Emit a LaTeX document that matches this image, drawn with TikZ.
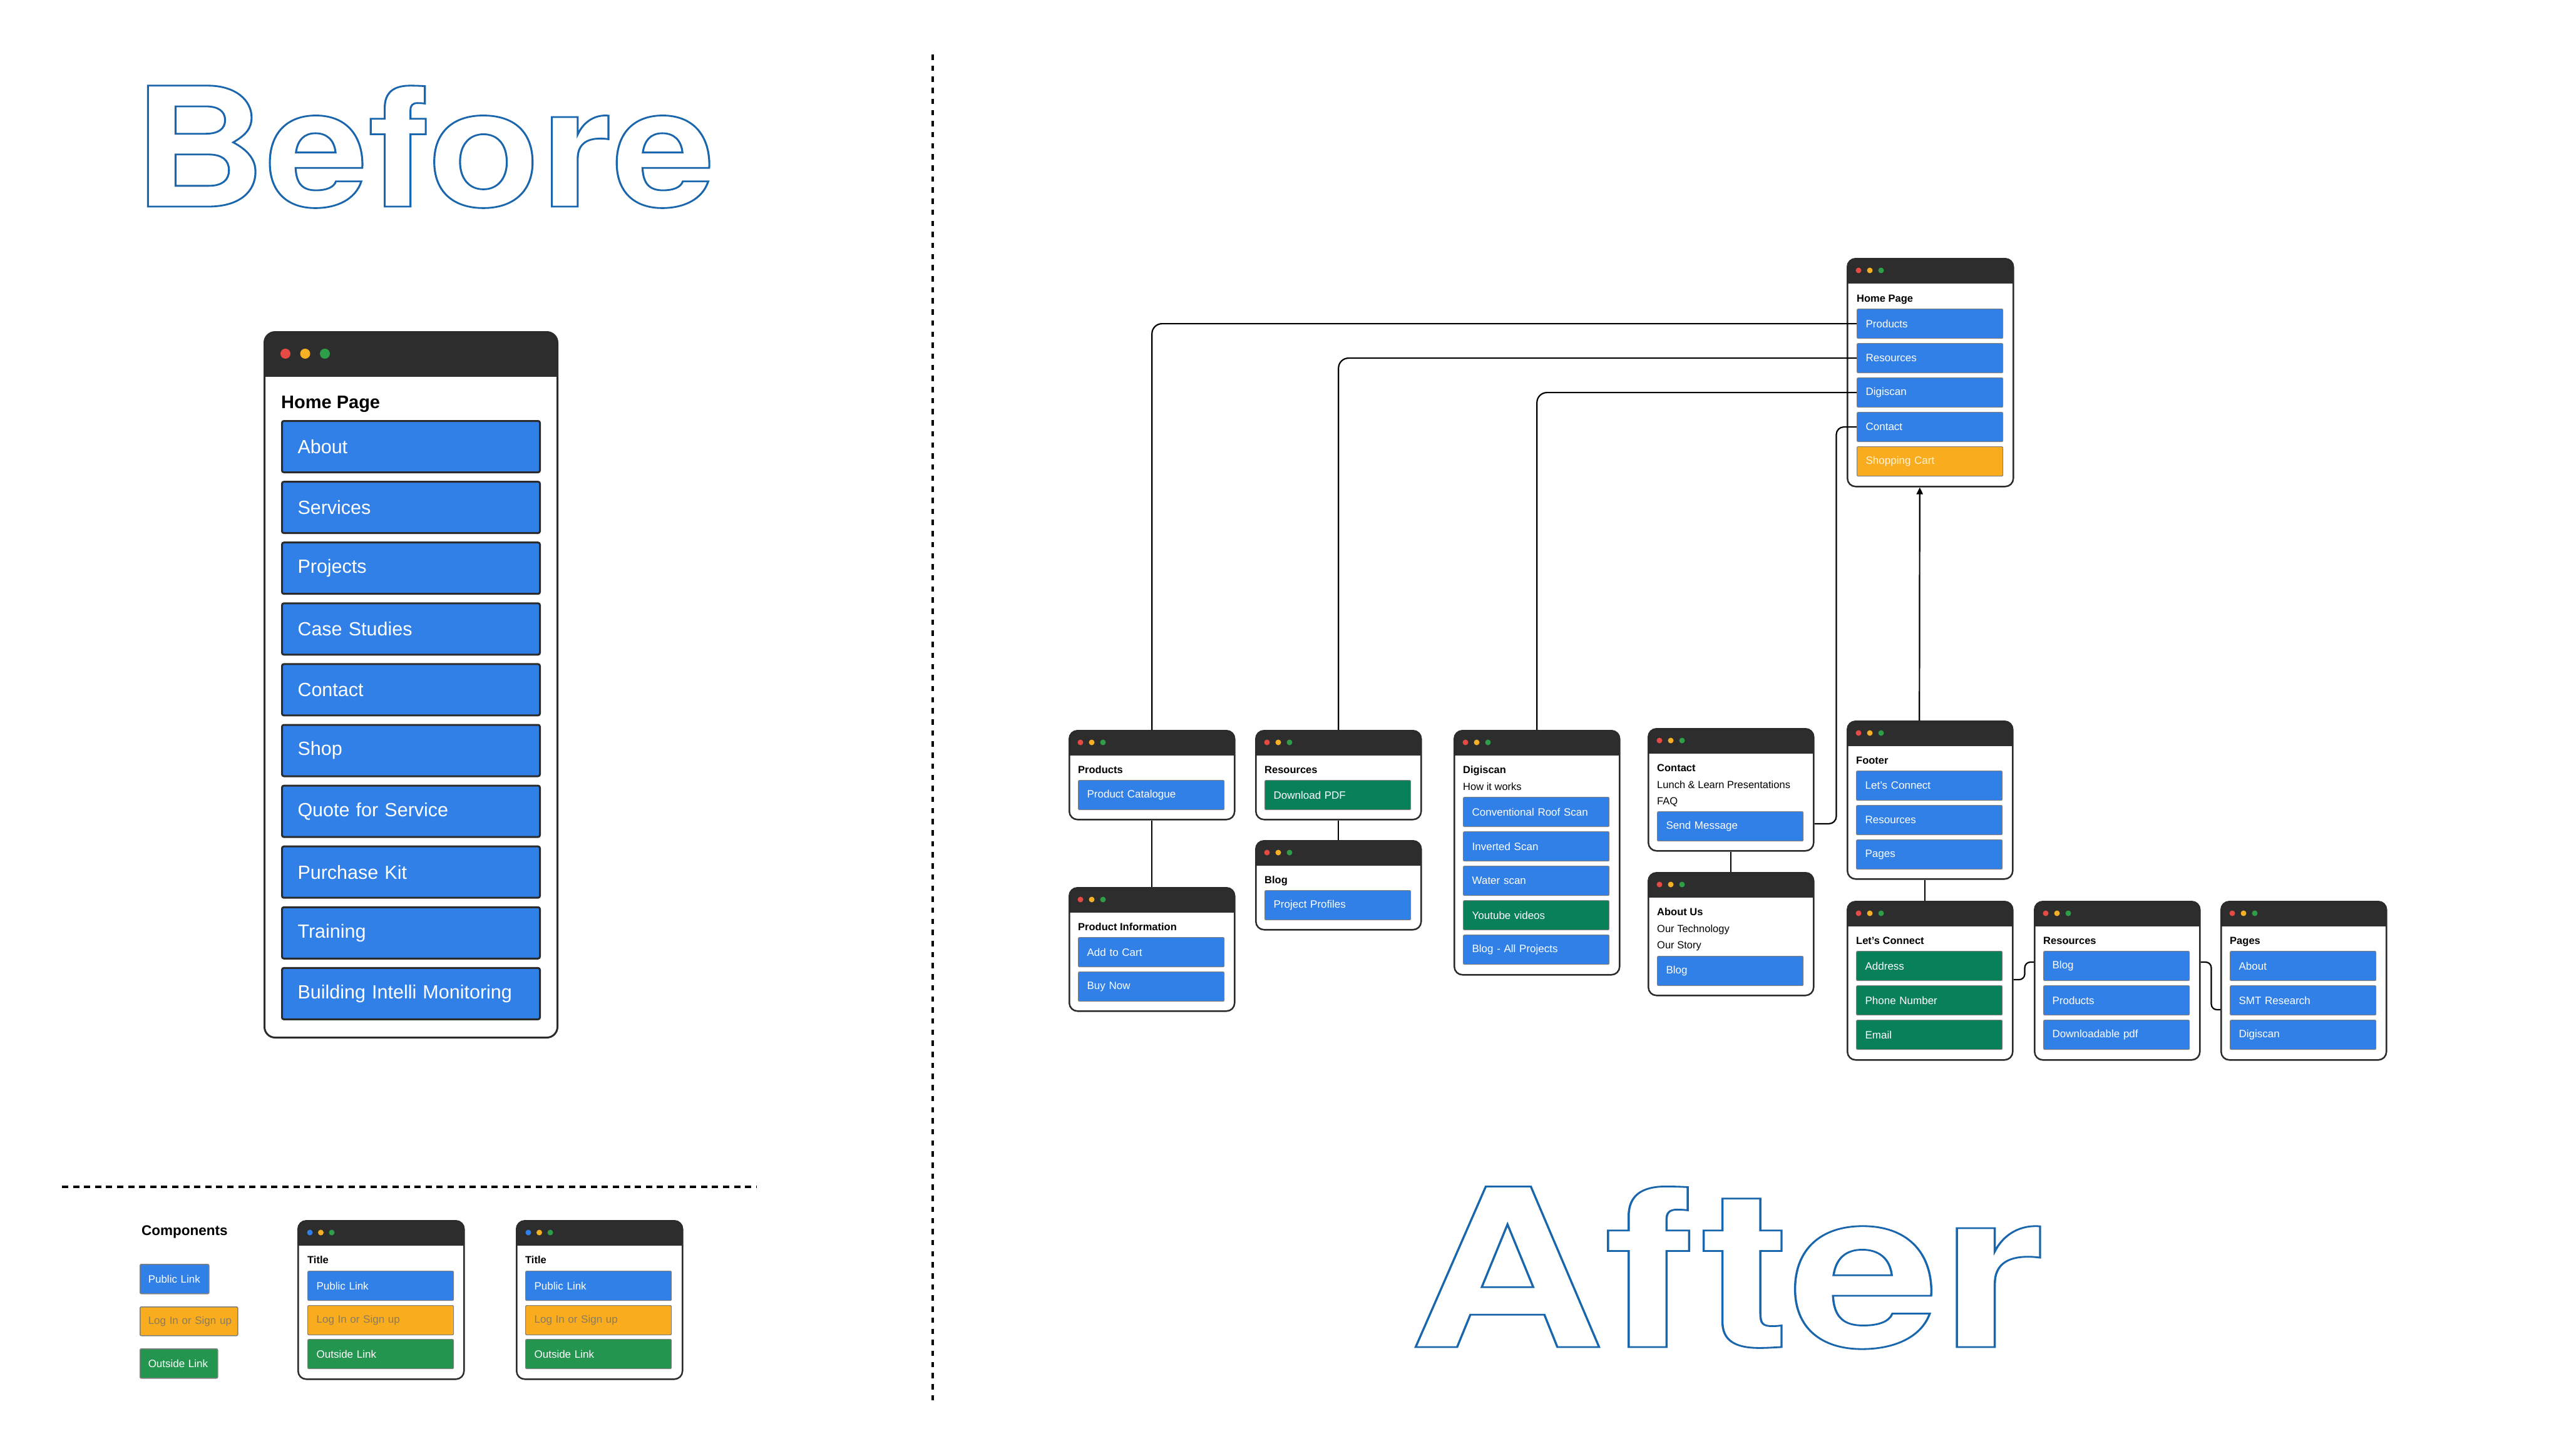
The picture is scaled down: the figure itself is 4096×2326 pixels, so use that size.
\documentclass[tikz,border=0pt]{standalone}
\usepackage{fontspec}
\setmainfont{Liberation Sans}
\newfontfamily\headfont{TeX Gyre Heros}
\usetikzlibrary{arrows.meta,calc}
\definecolor{hdr}{HTML}{2D2D2D}
\definecolor{bord}{HTML}{2B2B2B}
\definecolor{blu}{HTML}{3080E8}
\definecolor{org}{HTML}{F9AC1E}
\definecolor{grnA}{HTML}{08805A}
\definecolor{grnC}{HTML}{23954F}
\definecolor{dred}{HTML}{E64A45}
\definecolor{dorg}{HTML}{F5B025}
\definecolor{dgrn}{HTML}{2E9E48}
\definecolor{titleblue}{HTML}{1A66AD}
\definecolor{lgtxt}{HTML}{8A7C5E}
\definecolor{cream}{HTML}{FFF3DA}
\definecolor{itmbord}{HTML}{7F7F7F}
\newcommand\wdots[6]{%
  \fill[#6] ($(#1.north west)+(#2,#4)$) circle (#5pt);
  \fill[dorg] ($(#1.north west)+({#2+#3},#4)$) circle (#5pt);
  \fill[dgrn] ($(#1.north west)+({#2+2*#3},#4)$) circle (#5pt);}
\tikzset{
  win/.style={draw=bord, line width=2.5pt, fill=white, rounded corners=13pt,
    anchor=north west, inner sep=0pt, minimum width=264pt,
    path picture={\fill[hdr, sharp corners] (path picture bounding box.north west) rectangle ([yshift=-#1]path picture bounding box.north east);}},
  win/.default=40pt,
  itm/.style={anchor=north west, minimum height=47pt, inner xsep=14pt, inner ysep=0pt,
    text width=205pt, align=left, fill=blu, draw=itmbord, line width=1.2pt,
    rounded corners=2pt, text=white, font=\fontsize{17}{20}\selectfont},
  bitm/.style={anchor=north west, minimum height=82pt, inner xsep=25pt, inner ysep=0pt,
    text width=362pt, align=left, fill=blu, draw=bord, line width=3pt,
    rounded corners=3pt, text=white, font=\fontsize{30.5}{36}\selectfont},
  btn/.style={anchor=north west, inner xsep=13pt, inner ysep=0pt, align=left,
    draw=itmbord, line width=1.5pt, rounded corners=2pt, text=white,
    font=\fontsize{17}{20}\selectfont},
  wtitle/.style={anchor=base west, inner sep=0pt, font=\bfseries\fontsize{16.5}{20}\selectfont},
  wline/.style={anchor=base west, inner sep=0pt, font=\fontsize{16.5}{20}\selectfont},
  conn/.style={draw=black, line width=2.2pt, rounded corners=16pt},
}
\begin{document}
\begin{tikzpicture}[x=1pt,y=-1pt]
\useasboundingbox (0,0) rectangle (4096,2326);
\fill[white] (0,0) rectangle (4096,2326);

% big outlined titles
\node[anchor=base west, inner sep=0pt, text=titleblue] (tbefore) at (212,330)
  {\scalebox{1.11}[1]{\headfont\bfseries\fontsize{265}{300}\selectfont\special{pdf:literal direct 1 Tr 2.8 w}Before}};
\node[anchor=base west, inner sep=0pt, text=titleblue] (tafter) at (2250,2152)
  {\scalebox{1.23}[1]{\headfont\bfseries\fontsize{352}{400}\selectfont\special{pdf:literal direct 1 Tr 2.8 w}After}};

% separators
\draw[line width=4pt, dash pattern=on 8.5pt off 9.2pt] (1490,87) -- (1490,2239);
\draw[line width=4pt, dash pattern=on 10pt off 7.6pt] (99,1896) -- (1209,1896);

% ---------------- Before ----------------
\node[win=71pt, line width=3pt, rounded corners=17pt, minimum width=468pt, minimum height=1127pt] (bwin) at (421,529) {};
\wdots{bwin}{35}{31.5}{36}{8}{dred}
\node[anchor=base west, inner sep=0pt, font=\bfseries\fontsize{29}{34}\selectfont] (bhome) at (449,652) {Home Page};
\foreach \t [count=\i from 0] in {About,Services,Projects,Case Studies,Contact,Shop,Quote for Service,Purchase Kit,Training,Building Intelli Monitoring}
  \node[bitm] (bi\i) at (449,{671+97.1*\i}) {\t};

% ---------------- Components ----------------
\node[anchor=base west, inner sep=0pt, font=\bfseries\fontsize{22.5}{27}\selectfont] (comp) at (226,1973) {Components};
\node[btn, fill=blu, minimum height=47pt, text width=84pt] (cpub) at (223,2019) {\mbox{Public Link}};
\node[btn, fill=org, text=lgtxt, minimum height=46pt, text width=130pt] (clog) at (223,2087) {\mbox{Log In or Sign up}};
\node[btn, fill=grnC, minimum height=47pt, text width=98pt] (cout) at (223,2154) {\mbox{Outside Link}};

\node[win, minimum width=265pt, minimum height=253pt] (cw1) at (475,1949) {};
\wdots{cw1}{20}{17.5}{20}{4.5}{blu}
\node[wtitle] (cw1t) at (491,2018) {Title};
\node[itm] (cw1a) at (491,2030) {Public Link};
\node[itm, fill=org, text=lgtxt] (cw1b) at (491,2085) {Log In or Sign up};
\node[itm, fill=grnC] (cw1c) at (491,2139) {Outside Link};

\node[win, minimum width=265pt, minimum height=253pt] (cw2) at (824,1949) {};
\wdots{cw2}{20}{17.5}{20}{4.5}{blu}
\node[wtitle] (cw2t) at (839,2018) {Title};
\node[itm] (cw2a) at (839,2030) {Public Link};
\node[itm, fill=org, text=lgtxt] (cw2b) at (839,2085) {Log In or Sign up};
\node[itm, fill=grnC] (cw2c) at (839,2139) {Outside Link};

% ---------------- After ----------------
% Home page
\node[win, minimum width=265pt, minimum height=364pt] (home) at (2950,412) {};
\wdots{home}{19}{18}{20}{4.5}{dred}
\node[wtitle] (home-t) at (2966,482) {Home Page};
\node[itm] (hp-products) at (2966,493) {Products};
\node[itm] (hp-resources) at (2966,548) {Resources};
\node[itm] (hp-digiscan) at (2966,603) {Digiscan};
\node[itm] (hp-contact) at (2966,658) {Contact};
\node[itm, fill=org, text=cream] (hp-cart) at (2966,713) {Shopping Cart};

% Products
\node[win, minimum height=142pt] (products) at (1707,1166) {};
\wdots{products}{19}{18}{20}{4.5}{dred}
\node[wtitle] (products-t) at (1722,1235) {Products};
\node[itm] (products-1) at (1722,1246) {Product Catalogue};

% Product Information
\node[win, minimum height=197pt] (prodinfo) at (1707,1417) {};
\wdots{prodinfo}{19}{18}{20}{4.5}{dred}
\node[wtitle] (prodinfo-t) at (1722,1486) {Product Information};
\node[itm] (prodinfo-1) at (1722,1497) {Add to Cart};
\node[itm] (prodinfo-2) at (1722,1552) {Buy Now};

% Resources
\node[win, minimum height=142pt] (resources) at (2005,1166) {};
\wdots{resources}{19}{18}{20}{4.5}{dred}
\node[wtitle] (resources-t) at (2020,1235) {Resources};
\node[itm, fill=grnA] (resources-1) at (2020,1246) {Download PDF};

% Blog
\node[win, minimum height=142pt] (blog) at (2005,1342) {};
\wdots{blog}{19}{18}{20}{4.5}{dred}
\node[wtitle] (blog-t) at (2020,1411) {Blog};
\node[itm] (blog-1) at (2020,1422) {Project Profiles};

% Digiscan
\node[win, minimum height=390pt] (digiscan) at (2322,1166) {};
\wdots{digiscan}{19}{18}{20}{4.5}{dred}
\node[wtitle] (digiscan-t) at (2337,1235) {Digiscan};
\node[wline] (digiscan-l1) at (2337,1262) {How it works};
\node[itm] (digiscan-1) at (2337,1273) {Conventional Roof Scan};
\node[itm] (digiscan-2) at (2337,1328) {Inverted Scan};
\node[itm] (digiscan-3) at (2337,1383) {Water scan};
\node[itm, fill=grnA] (digiscan-4) at (2337,1438) {Youtube videos};
\node[itm] (digiscan-5) at (2337,1493) {Blog - All Projects};

% Contact
\node[win, minimum height=195pt] (contact) at (2632,1163) {};
\wdots{contact}{19}{18}{20}{4.5}{dred}
\node[wtitle] (contact-t) at (2647,1232) {Contact};
\node[wline] (contact-l1) at (2647,1259) {Lunch \& Learn Presentations};
\node[wline] (contact-l2) at (2647,1285) {FAQ};
\node[itm] (contact-1) at (2647,1296) {Send Message};

% About Us
\node[win, minimum height=196pt] (about) at (2632,1393) {};
\wdots{about}{19}{18}{20}{4.5}{dred}
\node[wtitle] (about-t) at (2647,1462) {About Us};
\node[wline] (about-l1) at (2647,1489) {Our Technology};
\node[wline] (about-l2) at (2647,1515) {Our Story};
\node[itm] (about-1) at (2647,1527) {Blog};

% Footer
\node[win, minimum height=252pt] (footer) at (2950,1151) {};
\wdots{footer}{19}{18}{20}{4.5}{dred}
\node[wtitle] (footer-t) at (2965,1220) {Footer};
\node[itm] (footer-1) at (2965,1231) {Let’s Connect};
\node[itm] (footer-2) at (2965,1286) {Resources};
\node[itm] (footer-3) at (2965,1341) {Pages};

% Let's Connect
\node[win, minimum height=253pt] (lc) at (2950,1439) {};
\wdots{lc}{19}{18}{20}{4.5}{dred}
\node[wtitle] (lc-t) at (2965,1508) {Let’s Connect};
\node[itm, fill=grnA] (lc-1) at (2965,1519) {Address};
\node[itm, fill=grnA] (lc-2) at (2965,1574) {Phone Number};
\node[itm, fill=grnA] (lc-3) at (2965,1629) {Email};

% Resources (footer)
\node[win, minimum height=253pt] (res2) at (3249,1439) {};
\wdots{res2}{19}{18}{20}{4.5}{dred}
\node[wtitle] (res2-t) at (3264,1508) {Resources};
\node[itm] (res2-1) at (3264,1519) {Blog};
\node[itm] (res2-2) at (3264,1574) {Products};
\node[itm] (res2-3) at (3264,1629) {Downloadable pdf};

% Pages
\node[win, minimum height=253pt] (pages) at (3547,1439) {};
\wdots{pages}{19}{18}{20}{4.5}{dred}
\node[wtitle] (pages-t) at (3562,1508) {Pages};
\node[itm] (pages-1) at (3562,1519) {About};
\node[itm] (pages-2) at (3562,1574) {SMT Research};
\node[itm] (pages-3) at (3562,1629) {Digiscan};

% connectors
\draw[conn] (hp-products.west) -| (products.north);
\draw[conn] (hp-resources.west) -| (resources.north);
\draw[conn] (hp-digiscan.west) -| (digiscan.north);
\draw[conn, rounded corners=12pt] (hp-contact.west) -| ($(contact.north east)+(35,153)$) -- ($(contact.north east)+(0,153)$);
\draw[conn] (products.south) -- (prodinfo.north);
\draw[conn] (resources.south) -- (blog.north);
\draw[conn] (contact.south) -- (about.north);
\draw[conn, -{Triangle[length=11pt,width=10pt]}] ([xshift=-17pt]footer.north) -- ([xshift=-17pt]home.south);
\draw[conn] ([xshift=-8pt]footer.south) -- ([xshift=-8pt]lc.north);
\draw[conn, rounded corners=9pt] ($(lc.north east)+(0,126)$) -- ($(lc.north east)+(18,126)$) -- ($(lc.north east)+(18,98)$) -- ($(res2.north west)+(0,98)$);
\draw[conn, rounded corners=9pt] ($(res2.north east)+(0,98)$) -- ($(res2.north east)+(17,98)$) -- ($(res2.north east)+(17,174)$) -- ($(pages.north west)+(0,174)$);
\end{tikzpicture}
\end{document}
